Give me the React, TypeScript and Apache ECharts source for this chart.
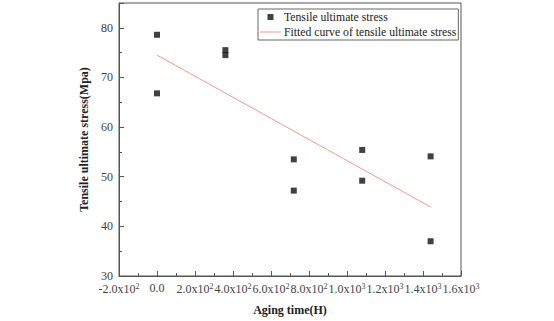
import React, { useEffect, useRef } from "react";
import * as echarts from "echarts";

const agingTime = [0, 0, 360, 360, 720, 720, 1080, 1080, 1440, 1440];
const tensileStress = [78.6, 66.8, 75.5, 74.5, 53.5, 47.2, 55.4, 49.2, 54.1, 37.0];
const fitTime = [0, 1440];
const fitStress = [74.5, 43.9];
const seriesNames = ["Tensile ultimate stress", "Fitted curve of tensile ultimate stress"];

const FONT = "'Liberation Serif', 'Times New Roman', serif";
const LINE_COLOR = "#f7998a";

function fmtX(v: number): string {
  if (v === 0) return "{b|0.0}";
  const a = Math.abs(v);
  if (a >= 1000) return "{b|" + (v / 1000).toFixed(1) + "x10}{s|3}";
  return "{b|" + (v / 100).toFixed(1) + "x10}{s|2}";
}

export default function App() {
  const ref = useRef<HTMLDivElement>(null);
  useEffect(() => {
    if (!ref.current) return;
    const chart = echarts.init(ref.current, undefined, { renderer: "svg" });
    chart.setOption({
      animation: false,
      backgroundColor: "#fff",
      grid: {
        left: 119,
        right: 93,
        top: 3,
        bottom: 42,
        show: true,
        borderColor: "#555",
        borderWidth: 1,
      },
      legend: {
        left: 258,
        top: 9,
        orient: "vertical",
        itemWidth: 21,
        itemHeight: 14,
        itemGap: 1,
        padding: [1, 2, 1, 2],
        borderColor: "#666",
        borderWidth: 1,
        textStyle: { fontFamily: FONT, fontSize: 11.7, color: "#222", padding: [0, 0, 0, -2] },
        data: [
          {
            name: seriesNames[0],
            icon: "path://M0,0M21,14M7.5,4h6v6h-6z",
            itemStyle: { color: "#111" },
          },
          {
            name: seriesNames[1],
            icon: "path://M0,0M21,14M0,6.5h21v1h-21z",
            itemStyle: { color: LINE_COLOR },
          },
        ],
      },
      xAxis: {
        type: "value",
        min: -200,
        max: 1600,
        interval: 200,
        name: "Aging time(H)",
        nameLocation: "middle",
        nameGap: 28,
        nameTextStyle: { fontFamily: FONT, fontSize: 12, fontWeight: "bold", color: "#222" },
        axisLine: { show: true, onZero: false, lineStyle: { color: "#555" } },
        axisTick: { show: true, inside: true, length: 5, lineStyle: { color: "#555" } },
        minorTick: { show: true, splitNumber: 2, length: 3, lineStyle: { color: "#555" } },
        splitLine: { show: false },
        axisLabel: {
          margin: 6,
          interval: 0,
          formatter: (v: number) => fmtX(v),
          rich: {
            b: { fontFamily: FONT, fontSize: 12, color: "#444" },
            s: { fontFamily: FONT, fontSize: 8, color: "#444", padding: [0, 0, 6, 0] },
          },
        },
      },
      yAxis: {
        type: "value",
        min: 30,
        max: 85,
        interval: 10,
        name: "Tensile ultimate stress(Mpa)",
        nameLocation: "middle",
        nameGap: 18,
        nameTextStyle: { fontFamily: FONT, fontSize: 12, fontWeight: "bold", color: "#222" },
        axisLine: { show: true, onZero: false, lineStyle: { color: "#555" } },
        axisTick: { show: true, inside: true, length: 5, lineStyle: { color: "#555" } },
        minorTick: { show: true, splitNumber: 2, length: 3, lineStyle: { color: "#555" } },
        splitLine: { show: false },
        axisLabel: {
          fontFamily: FONT,
          fontSize: 12,
          color: "#444",
          margin: 6,
          formatter: (v: number) => (v === 85 ? "" : String(v)),
        },
      },
      series: [
        {
          name: seriesNames[0],
          type: "scatter",
          symbol: "rect",
          symbolSize: 6,
          itemStyle: { color: "#111" },
          data: agingTime.map((t, i) => [t, tensileStress[i]]),
        },
        {
          name: seriesNames[1],
          type: "line",
          showSymbol: false,
          symbol: "none",
          lineStyle: { color: LINE_COLOR, width: 1 },
          itemStyle: { color: LINE_COLOR },
          data: fitTime.map((t, i) => [t, fitStress[i]]),
        },
      ],
    });
    return () => chart.dispose();
  }, []);
  return <div ref={ref} style={{ width: 554, height: 321, position: "absolute", left: 0, top: 0 }} />;
}
